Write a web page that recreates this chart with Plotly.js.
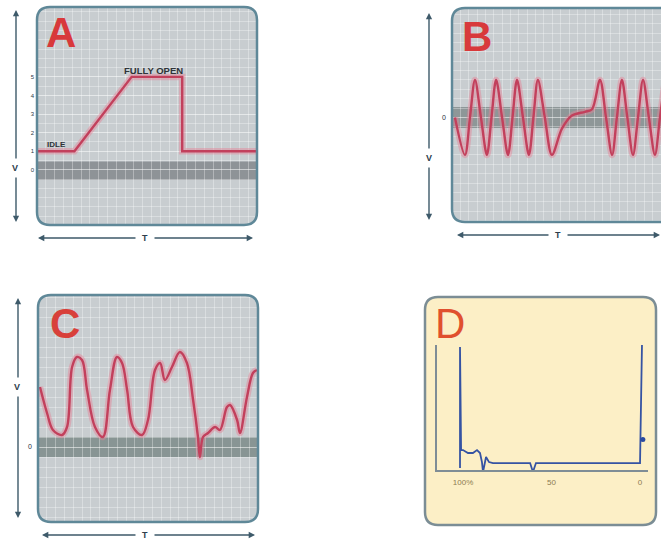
<!DOCTYPE html>
<html><head><meta charset="utf-8">
<script src="https://cdn.plot.ly/plotly-3.0.1.min.js"></script>
<style>html,body{margin:0;padding:0;background:#fff}#chart{width:661px;height:539px}</style>
</head><body><div id="chart"></div>
<script>
// ---------- data ----------
const timeA  = [0, 17, 43, 66, 66, 100];
const voltsA = [1, 1, 5, 5, 1, 1];
const ticksA = [0, 1, 2, 3, 4, 5];
const bandA  = [-0.55, 0.45];

const timeB  = [1.4, 6.2, 8.6, 11.0, 13.85, 16.7, 18.9, 21.1, 23.95, 26.8, 28.95, 31.1, 33.95, 36.8, 38.95, 41.1, 44.4, 47.8, 52.6, 57.4, 63.6, 67.0, 70.8, 73.7, 76.6, 78.9, 81.3, 83.9, 86.6, 89.0, 91.4, 94.2, 97.1, 99.5, 101.9];
const voltsB = [0, -1, 0, 1, 0, -1, 0, 1, 0, -1, 0, 1, 0, -1, 0, 1, 0, -1, -0.3, 0.05, 0.15, 0.22, 1, 0, -1, 0, 1, 0, -1, 0, 1, 0, -1, 0, 1];
const bandB  = [-0.28, 0.28];

const timeC  = [0.9, 4.1, 6.8, 10.9, 13.2, 15.5, 17.7, 20.0, 22.3, 25.9, 29.5, 32.7, 35.9, 38.2, 40.5, 43.2, 47.3, 50.0, 53.2, 55.5, 57.7, 60.9, 64.5, 67.7, 70.5, 72.7, 73.6, 75.0, 77.3, 80.5, 82.7, 85.9, 87.3, 90.5, 91.8, 95.0, 97.7, 99.5];
const voltsC = [3.0, 1.7, 0.85, 0.6, 1.0, 4.0, 4.5, 4.35, 2.85, 1.0, 0.5, 2.85, 4.5, 4.2, 2.85, 1.0, 0.6, 1.35, 3.85, 4.2, 3.35, 4.0, 4.75, 4.2, 2.35, 0.5, -0.5, 0.5, 0.7, 1.0, 0.85, 2.0, 2.1, 1.35, 0.7, 2.5, 3.7, 3.85];
const bandC  = [-0.5, 0.5];

const pctD  = [101.7, 101.7, 101.1, 100, 97.2, 94.4, 92.1, 90.4, 89.3, 88.7, 87.0, 85.3, 83.1, 62.1, 60.5, 58.8, 0, -1.1];
const ampD  = [-4.2, 98.3, 11.0, 11.0, 8.5, 8.5, 11.0, 8.5, 0.8, -7.6, 5.1, 0.8, 0, 0, -7.6, 0, 0, 100];
const pctBlob = [-1.6];
const ampBlob = [20];
const tickValsD = [100, 50, 0];
const tickTextD = ['100%', '50', '0'];

const letters = ['A', 'B', 'C', 'D'];

// ---------- helpers ----------
const W = 661, H = 539;
const X = p => p / W, Y = p => 1 - p / H;
function pt(x, y) { return X(x) + ',' + Y(y); }
function rrect(x0, y0, x1, y1, r) {
  return 'M' + pt(x0 + r, y0) + ' L' + pt(x1 - r, y0) + ' Q' + pt(x1, y0) + ' ' + pt(x1, y0 + r) +
    ' L' + pt(x1, y1 - r) + ' Q' + pt(x1, y1) + ' ' + pt(x1 - r, y1) +
    ' L' + pt(x0 + r, y1) + ' Q' + pt(x0, y1) + ' ' + pt(x0, y1 - r) +
    ' L' + pt(x0, y0 + r) + ' Q' + pt(x0, y0) + ' ' + pt(x0 + r, y0) + ' Z';
}
function corners(x0, y0, x1, y1, r) {
  const c = [[x0, y0, 1, 1], [x1, y0, -1, 1], [x1, y1, -1, -1], [x0, y1, 1, -1]];
  return c.map(([cx, cy, sx, sy]) => ({
    type: 'path', xref: 'paper', yref: 'paper', layer: 'above',
    path: 'M' + pt(cx - sx, cy - sy) + ' L' + pt(cx + sx * r, cy - sy) + ' L' + pt(cx + sx * r, cy) +
      ' Q' + pt(cx, cy) + ' ' + pt(cx, cy + sy * r) + ' L' + pt(cx - sx, cy + sy * r) + ' Z',
    fillcolor: '#ffffff', line: { width: 0 }
  }));
}
const panels = {
  A: [37, 7, 257, 225, '#c8cdd0', '#5f8898'],
  B: [452, 8, 690, 222, '#c8cdd0', '#5f8898'],
  C: [38, 295, 258, 522, '#c8cdd0', '#5f8898'],
  D: [425, 297, 656, 525, '#fcefc6', '#7b8d95']
};
const shapes = [];
for (const k of letters) {
  const [x0, y0, x1, y1, bg, bd] = panels[k];
  shapes.push({ type: 'path', xref: 'paper', yref: 'paper', layer: 'below', path: rrect(x0, y0, x1, y1, 13), fillcolor: bg, line: { width: 0 } });
}
const bandSpec = [['x', 'y', bandA, '#8e9397'], ['x2', 'y2', bandB, '#8e9798'], ['x3', 'y3', bandC, '#889594']];
for (const [xa, ya, b, col] of bandSpec) {
  shapes.push({ type: 'rect', xref: xa + ' domain', yref: ya, x0: 0, x1: 1, y0: b[0], y1: b[1], layer: 'below', fillcolor: col, line: { width: 0 } });
}
for (const k of letters) {
  const [x0, y0, x1, y1, bg, bd] = panels[k];
  corners(x0, y0, x1, y1, 13).forEach(s => shapes.push(s));
  shapes.push({ type: 'path', xref: 'paper', yref: 'paper', layer: 'above', path: rrect(x0, y0, x1, y1, 13), fillcolor: 'rgba(0,0,0,0)', line: { width: 2.5, color: bd } });
}

const annotations = [];
function arrow(x0, y0, x1, y1) {
  annotations.push({ xref: 'paper', yref: 'paper', x: X(x1), y: Y(y1), ax: x0 - x1, ay: y0 - y1, axref: 'pixel', ayref: 'pixel',
    text: '', showarrow: true, arrowhead: 2, arrowsize: 0.9, arrowwidth: 1.4, arrowcolor: '#3e5a6a', standoff: 0, startstandoff: 0 });
}
function label(x, y, t, size, color, extra) {
  annotations.push(Object.assign({ xref: 'paper', yref: 'paper', x: X(x), y: Y(y), text: t, showarrow: false,
    xanchor: 'center', yanchor: 'middle', font: { family: 'Liberation Sans, Arial, sans-serif', size: size, color: color } }, extra || {}));
}
// arrows: A
arrow(16, 160, 16, 10); arrow(16, 176, 16, 222); label(15, 168, '<b>V</b>', 9, '#2e3e4c');
arrow(137, 238, 38, 238); arrow(153, 238, 253, 238); label(145, 238, '<b>T</b>', 9, '#2e3e4c');
// B
arrow(429, 150, 429, 13); arrow(429, 166, 429, 220); label(429, 158, '<b>V</b>', 9, '#2e3e4c');
arrow(550, 235, 457, 235); arrow(566, 235, 661, 235); label(558, 235, '<b>T</b>', 9, '#2e3e4c');
// C
arrow(18, 379, 18, 298); arrow(18, 395, 18, 518); label(17, 387, '<b>V</b>', 9, '#2e3e4c');
arrow(137, 535, 42, 535); arrow(153, 535, 255, 535); label(145, 535, '<b>T</b>', 9, '#2e3e4c');
// letters
const letterPos = { A: [61, 33, '#d8393b'], B: [477, 37, '#d8393b'], C: [65, 323, '#d8403a'], D: [450, 323, '#e0502e'] };
for (const k of letters) {
  const [x, y, c] = letterPos[k];
  label(x, y, k === 'D' ? k : '<b>' + k + '</b>', 42, c);
}
// panel A texts (data coords)
annotations.push({ xref: 'x', yref: 'y', x: 53, y: 4.95, text: '<b>FULLY OPEN</b>', showarrow: false, yanchor: 'bottom',
  font: { family: 'Liberation Sans, Arial, sans-serif', size: 9.5, color: '#2f3438' } });
annotations.push({ xref: 'x', yref: 'y', x: 9, y: 1.0, text: '<b>IDLE</b>', showarrow: false, yanchor: 'bottom',
  font: { family: 'Liberation Sans, Arial, sans-serif', size: 8, color: '#2f3438' } });

// ---------- traces ----------
const red = '#c2405c', glow = 'rgba(228,130,150,0.45)';
function line(x, y, xa, ya, shape, sm) {
  return [
    { x: x, y: y, xaxis: xa, yaxis: ya, type: 'scatter', mode: 'lines', line: { color: glow, width: 6.5, shape: shape, smoothing: sm }, hoverinfo: 'skip' },
    { x: x, y: y, xaxis: xa, yaxis: ya, type: 'scatter', mode: 'lines', line: { color: red, width: 2.4, shape: shape, smoothing: sm } }
  ];
}
const data = [].concat(
  line(timeA, voltsA, 'x', 'y', 'linear', 0),
  line(timeB, voltsB, 'x2', 'y2', 'spline', 0.9),
  line(timeC, voltsC, 'x3', 'y3', 'spline', 1),
  [{ x: pctD, y: ampD, xaxis: 'x4', yaxis: 'y4', type: 'scatter', mode: 'lines', cliponaxis: false, line: { color: '#3553a3', width: 1.8 } },
   { x: pctBlob, y: ampBlob, xaxis: 'x4', yaxis: 'y4', type: 'scatter', mode: 'markers', cliponaxis: false, marker: { color: '#2a4aa0', size: 5 } }]
);

const gridCol = 'rgba(255,255,255,0.32)';
function gx(dom, range, dtick) {
  return { domain: dom, range: range, showgrid: true, gridcolor: gridCol, gridwidth: 1, dtick: dtick, tick0: 0,
    zeroline: false, showticklabels: false, ticks: '', showline: false, fixedrange: true };
}
const layout = {
  width: W, height: H, margin: { l: 0, r: 0, t: 0, b: 0 }, showlegend: false,
  paper_bgcolor: '#ffffff', plot_bgcolor: 'rgba(0,0,0,0)',
  xaxis: Object.assign(gx([X(37), X(257)], [0, 100], 4), { anchor: 'y' }),
  yaxis: Object.assign(gx([Y(225), Y(7)], [-2.97, 8.76], 0.5), {
    anchor: 'x', tickmode: 'array', tickvals: ticksA, ticktext: ticksA.map(String), showticklabels: true,
    tickfont: { family: 'Liberation Sans, Arial', size: 6, color: '#2a3a48' }, ticklabelstandoff: 2,
    minor: { dtick: 0.5, tick0: 0, showgrid: true, gridcolor: gridCol } }),
  xaxis2: Object.assign(gx([X(452), 1], [0, 100], 4), { anchor: 'y2' }),
  yaxis2: Object.assign(gx([Y(222), Y(8)], [-2.79, 2.92], 0.25), {
    anchor: 'x2', tickmode: 'array', tickvals: [0], ticktext: ['0'], showticklabels: true,
    tickfont: { family: 'Liberation Sans, Arial', size: 7, color: '#1f2e3c' }, ticklabelstandoff: 5,
    minor: { dtick: 0.25, tick0: 0, showgrid: true, gridcolor: gridCol } }),
  xaxis3: Object.assign(gx([X(38), X(258)], [0, 100], 4), { anchor: 'y3' }),
  yaxis3: Object.assign(gx([Y(522), Y(295)], [-3.75, 7.6], 0.5), {
    anchor: 'x3', tickmode: 'array', tickvals: [0], ticktext: ['0'], showticklabels: true,
    tickfont: { family: 'Liberation Sans, Arial', size: 7, color: '#1f2e3c' }, ticklabelstandoff: 5,
    minor: { dtick: 0.5, tick0: 0, showgrid: true, gridcolor: gridCol } }),
  xaxis4: { domain: [X(437), X(648)], range: [114.7, -4.5], anchor: 'y4', showgrid: false, zeroline: false,
    showline: true, linecolor: '#7f8d96', linewidth: 2, ticks: '', tickmode: 'array', tickvals: tickValsD, ticktext: tickTextD,
    tickfont: { family: 'Liberation Sans, Arial', size: 8, color: '#8c7b52' }, ticklabelstandoff: 3, fixedrange: true },
  yaxis4: { domain: [Y(470), Y(345)], range: [-5.9, 100], anchor: 'x4', showgrid: false, zeroline: false,
    showline: true, linecolor: '#7f8d96', linewidth: 2, showticklabels: false, ticks: '', fixedrange: true },
  shapes: shapes, annotations: annotations
};
Plotly.newPlot('chart', data, layout, { staticPlot: true, displayModeBar: false });
</script></body></html>
